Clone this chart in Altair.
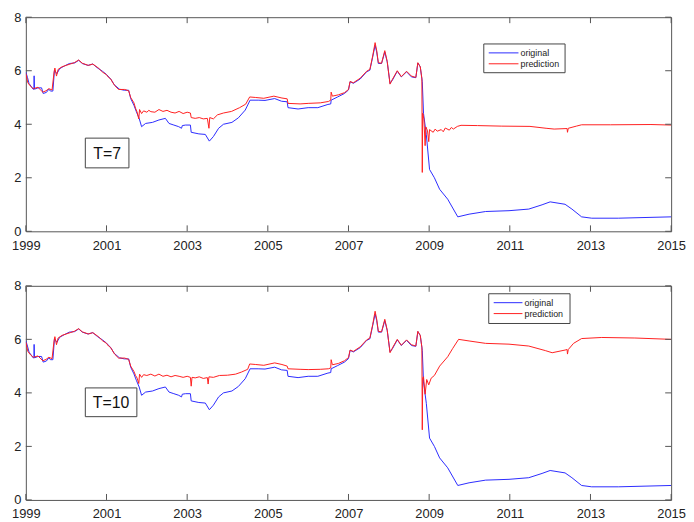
import altair as alt
import pandas as pd

# ---------------- data ----------------
x_ticks = [1999, 2001, 2003, 2005, 2007, 2009, 2011, 2013, 2015]
y_ticks = [0, 2, 4, 6, 8]
series_names = ["original", "prediction"]
panel_labels = ["T=7", "T=10"]

orig_years = [1999.00, 1999.04, 1999.08, 1999.14, 1999.18, 1999.20, 1999.205, 1999.215, 1999.30, 1999.39,
              1999.43, 1999.51, 1999.57, 1999.61, 1999.67, 1999.71, 1999.77, 1999.84, 1999.96, 2000.08,
              2000.21, 2000.31, 2000.40, 2000.54, 2000.66, 2000.78, 2000.90, 2001.00, 2001.11, 2001.19,
              2001.32, 2001.44, 2001.55, 2001.60, 2001.68, 2001.74, 2001.81, 2001.87, 2001.97, 2002.14,
              2002.30, 2002.46, 2002.55, 2002.67, 2002.79, 2002.86, 2002.88, 2002.96, 2003.08, 2003.10,
              2003.29, 2003.45, 2003.55, 2003.65, 2003.78, 2003.90, 2004.11, 2004.27, 2004.44, 2004.56,
              2004.76, 2004.93, 2005.17, 2005.34, 2005.48, 2005.50, 2005.75, 2006.00, 2006.24, 2006.49,
              2006.56, 2006.57, 2006.73, 2006.90, 2007.00, 2007.04, 2007.12, 2007.29, 2007.45, 2007.53,
              2007.60, 2007.66, 2007.70, 2007.74, 2007.82, 2007.90, 2007.96, 2008.03, 2008.09, 2008.21,
              2008.31, 2008.44, 2008.56, 2008.67, 2008.72, 2008.78, 2008.83, 2008.86, 2008.93, 2009.01,
              2009.13, 2009.26, 2009.46, 2009.71, 2009.99, 2010.40, 2010.98, 2011.47, 2011.80, 2012.00,
              2012.37, 2012.54, 2012.78, 2013.03, 2013.69, 2015.00]
orig_vals = [5.95, 5.75, 5.52, 5.40, 5.31, 5.31, 5.81, 5.31, 5.36, 5.36,
             5.15, 5.19, 5.31, 5.24, 5.24, 6.02, 5.89, 6.08, 6.18, 6.27,
             6.29, 6.39, 6.27, 6.20, 6.25, 6.10, 5.98, 5.86, 5.68, 5.48,
             5.31, 5.27, 5.27, 4.96, 4.71, 4.47, 4.22, 3.91, 4.03, 4.07,
             4.16, 4.22, 4.03, 3.97, 3.91, 3.85, 3.95, 3.97, 3.97, 3.70,
             3.64, 3.62, 3.37, 3.54, 3.85, 4.00, 4.07, 4.24, 4.53, 4.90,
             4.90, 4.89, 4.96, 4.86, 4.84, 4.62, 4.57, 4.62, 4.62, 4.74,
             4.76, 4.90, 5.02, 5.15, 5.28, 5.59, 5.53, 5.69, 5.96, 6.02,
             6.51, 6.95, 6.70, 6.27, 6.27, 6.70, 6.33, 5.53, 5.65, 5.98,
             5.77, 5.96, 5.77, 5.74, 6.29, 6.14, 5.59, 4.41, 3.61, 2.31,
             2.00, 1.57, 1.20, 0.54, 0.64, 0.74, 0.77, 0.83, 0.99, 1.10,
             1.01, 0.83, 0.54, 0.49, 0.49, 0.54]

pred7_years = [1999.00, 1999.05, 1999.10, 1999.18, 1999.30, 1999.42, 1999.50, 1999.57, 1999.65, 1999.70,
               1999.72, 1999.76, 1999.80, 1999.90, 2000.00, 2000.10, 2000.20, 2000.31, 2000.40, 2000.55,
               2000.66, 2000.80, 2000.90, 2001.00, 2001.05, 2001.10, 2001.20, 2001.30, 2001.45, 2001.55,
               2001.60, 2001.68, 2001.72, 2001.76, 2001.80, 2001.82, 2001.87, 2001.92, 2002.00, 2002.05,
               2002.10, 2002.20, 2002.30, 2002.40, 2002.50, 2002.60, 2002.70, 2002.80, 2002.90, 2003.00,
               2003.08, 2003.10, 2003.20, 2003.30, 2003.40, 2003.50, 2003.54, 2003.56, 2003.65, 2003.75,
               2003.90, 2004.10, 2004.30, 2004.45, 2004.55, 2004.70, 2004.90, 2005.15, 2005.35, 2005.48,
               2005.50, 2005.80, 2006.00, 2006.30, 2006.50, 2006.56, 2006.57, 2006.60, 2006.75, 2006.90,
               2007.00, 2007.04, 2007.12, 2007.29, 2007.45, 2007.53, 2007.60, 2007.66, 2007.70, 2007.74,
               2007.82, 2007.90, 2007.96, 2008.03, 2008.09, 2008.21, 2008.31, 2008.44, 2008.56, 2008.67,
               2008.72, 2008.78, 2008.82, 2008.83, 2008.84, 2008.87, 2008.90, 2008.92, 2008.96, 2008.99,
               2009.01, 2009.10, 2009.15, 2009.20, 2009.30, 2009.35, 2009.40, 2009.50, 2009.55, 2009.60,
               2009.70, 2009.79, 2010.20, 2010.80, 2011.50, 2011.90, 2012.10, 2012.42, 2012.43, 2012.45,
               2012.65, 2012.78, 2013.50, 2014.50, 2015.00]
pred7_vals = [5.90, 5.55, 5.45, 5.33, 5.38, 5.20, 5.25, 5.33, 5.28, 5.95,
              6.10, 5.80, 6.05, 6.15, 6.20, 6.25, 6.30, 6.40, 6.28, 6.20,
              6.25, 6.10, 5.95, 5.85, 5.75, 5.70, 5.45, 5.30, 5.30, 5.25,
              5.00, 4.80, 4.60, 4.45, 4.20, 4.55, 4.40, 4.50, 4.45, 4.52,
              4.47, 4.45, 4.55, 4.48, 4.52, 4.45, 4.42, 4.48, 4.40, 4.45,
              4.42, 4.25, 4.22, 4.25, 4.20, 4.22, 3.85, 4.25, 4.20, 4.35,
              4.42, 4.48, 4.62, 4.75, 5.02, 5.00, 4.97, 5.05, 4.98, 4.95,
              4.78, 4.76, 4.78, 4.80, 4.85, 4.90, 5.20, 5.05, 5.10, 5.18,
              5.30, 5.60, 5.55, 5.72, 5.98, 6.05, 6.55, 7.05, 6.75, 6.30,
              6.28, 6.75, 6.35, 5.50, 5.68, 6.00, 5.78, 5.98, 5.80, 5.75,
              6.30, 6.15, 5.70, 2.20, 4.41, 4.20, 3.20, 3.90, 3.75, 3.35,
              3.80, 3.70, 3.82, 3.74, 3.80, 3.72, 3.86, 3.78, 3.88, 3.82,
              3.92, 3.96, 3.95, 3.93, 3.92, 3.85, 3.82, 3.84, 3.70, 3.85,
              3.93, 3.98, 3.98, 3.99, 3.97]

pred10_years = [1999.00, 1999.05, 1999.10, 1999.18, 1999.30, 1999.42, 1999.50, 1999.57, 1999.65, 1999.70,
                1999.72, 1999.76, 1999.80, 1999.90, 2000.00, 2000.10, 2000.20, 2000.31, 2000.40, 2000.55,
                2000.66, 2000.80, 2000.90, 2001.00, 2001.05, 2001.10, 2001.20, 2001.30, 2001.45, 2001.55,
                2001.60, 2001.68, 2001.72, 2001.76, 2001.80, 2001.82, 2001.87, 2001.92, 2002.00, 2002.10,
                2002.20, 2002.30, 2002.40, 2002.50, 2002.60, 2002.70, 2002.80, 2002.90, 2003.00, 2003.08,
                2003.10, 2003.12, 2003.20, 2003.30, 2003.40, 2003.50, 2003.52, 2003.54, 2003.65, 2003.80,
                2004.00, 2004.20, 2004.35, 2004.50, 2004.55, 2004.70, 2004.90, 2005.17, 2005.35, 2005.48,
                2005.50, 2005.80, 2006.00, 2006.30, 2006.50, 2006.56, 2006.57, 2006.60, 2006.75, 2006.90,
                2007.00, 2007.04, 2007.12, 2007.29, 2007.45, 2007.53, 2007.60, 2007.66, 2007.70, 2007.74,
                2007.82, 2007.90, 2007.96, 2008.03, 2008.09, 2008.21, 2008.31, 2008.44, 2008.56, 2008.67,
                2008.72, 2008.78, 2008.82, 2008.83, 2008.84, 2008.86, 2008.90, 2008.94, 2008.99, 2009.05,
                2009.13, 2009.26, 2009.46, 2009.58, 2009.73, 2009.99, 2010.40, 2010.98, 2011.47, 2011.88,
                2012.05, 2012.37, 2012.42, 2012.43, 2012.45, 2012.58, 2012.78, 2013.28, 2014.10, 2015.00]
pred10_vals = [5.90, 5.55, 5.45, 5.33, 5.38, 5.20, 5.25, 5.33, 5.28, 5.95,
               6.10, 5.80, 6.05, 6.15, 6.20, 6.25, 6.30, 6.40, 6.28, 6.20,
               6.25, 6.10, 5.95, 5.85, 5.75, 5.70, 5.45, 5.30, 5.30, 5.25,
               5.00, 4.80, 4.65, 4.55, 4.35, 4.70, 4.58, 4.68, 4.65, 4.70,
               4.63, 4.70, 4.62, 4.66, 4.60, 4.65, 4.62, 4.58, 4.62, 4.58,
               4.25, 4.58, 4.56, 4.60, 4.54, 4.57, 4.33, 4.60, 4.58, 4.65,
               4.66, 4.70, 4.78, 4.88, 5.08, 5.06, 5.03, 5.12, 5.06, 5.00,
               4.90, 4.88, 4.87, 4.88, 4.90, 4.93, 5.24, 5.05, 5.10, 5.20,
               5.32, 5.60, 5.55, 5.72, 5.98, 6.05, 6.55, 7.05, 6.75, 6.30,
               6.28, 6.75, 6.35, 5.50, 5.68, 6.00, 5.78, 5.98, 5.80, 5.75,
               6.30, 6.15, 5.70, 2.62, 4.55, 4.60, 3.95, 4.50, 4.30, 4.55,
               4.65, 5.00, 5.35, 5.65, 6.00, 5.94, 5.85, 5.82, 5.75, 5.58,
               5.50, 5.60, 5.62, 5.45, 5.62, 5.85, 6.03, 6.07, 6.05, 6.00]

# ---------------- styling ----------------
W, H = 651, 216
BLUE = "#2b2bff"
RED = "#ff1f1f"
FRAME = "#555555"
FONT = "Liberation Sans"
TICK = 6

x_scale = alt.Scale(domain=[1999, 2015], nice=False, zero=False)
y_scale = alt.Scale(domain=[0, 8], nice=False)
x_axis = alt.Axis(values=x_ticks, format="d", title=None, labelPadding=8, labelFlush=False)
y_axis = alt.Axis(values=y_ticks, format="d", title=None, labelPadding=5)

xt_df = pd.DataFrame({"year": x_ticks})
yt_df = pd.DataFrame({"v": y_ticks})
one = alt.Data(values=[{}])


def panel(pred_years, pred_vals, label, leg, tbox):
    orig_df = pd.DataFrame({"year": orig_years, "value": orig_vals})
    pred_df = pd.DataFrame({"year": pred_years, "value": pred_vals})

    blue = alt.Chart(orig_df).mark_line(color=BLUE, strokeWidth=1, clip=True).encode(
        x=alt.X("year:Q", scale=x_scale, axis=x_axis),
        y=alt.Y("value:Q", scale=y_scale, axis=y_axis),
    )
    red = alt.Chart(pred_df).mark_line(color=RED, strokeWidth=1, clip=True).encode(
        x=alt.X("year:Q", scale=x_scale),
        y=alt.Y("value:Q", scale=y_scale),
    )

    # inward MATLAB-style ticks
    xt_bot = alt.Chart(xt_df).mark_rule(color=FRAME).encode(
        x=alt.X("year:Q", scale=x_scale), y=alt.value(H), y2=alt.value(H - TICK))
    xt_top = alt.Chart(xt_df).mark_rule(color=FRAME).encode(
        x=alt.X("year:Q", scale=x_scale), y=alt.value(0), y2=alt.value(TICK))
    yt_left = alt.Chart(yt_df).mark_rule(color=FRAME).encode(
        y=alt.Y("v:Q", scale=y_scale), x=alt.value(0), x2=alt.value(TICK))
    yt_right = alt.Chart(yt_df).mark_rule(color=FRAME).encode(
        y=alt.Y("v:Q", scale=y_scale), x=alt.value(W), x2=alt.value(W - TICK))

    # legend box
    lx0, lx1, ly0, ly1, sx0, sx1, r1, r2, tx = leg
    lbox = alt.Chart(one).mark_rect(fill="white", stroke="#444444", strokeWidth=1).encode(
        x=alt.value(lx0), x2=alt.value(lx1), y=alt.value(ly0), y2=alt.value(ly1))
    l1 = alt.Chart(one).mark_rule(color=BLUE, strokeWidth=1).encode(
        x=alt.value(sx0), x2=alt.value(sx1), y=alt.value(r1))
    l2 = alt.Chart(one).mark_rule(color=RED, strokeWidth=1).encode(
        x=alt.value(sx0), x2=alt.value(sx1), y=alt.value(r2))
    t1 = alt.Chart(one).mark_text(text=series_names[0], align="left", baseline="middle",
                                  font=FONT, fontSize=9, color="#222222").encode(
        x=alt.value(tx), y=alt.value(r1))
    t2 = alt.Chart(one).mark_text(text=series_names[1], align="left", baseline="middle",
                                  font=FONT, fontSize=9, color="#222222").encode(
        x=alt.value(tx), y=alt.value(r2))

    # T=.. annotation box
    bx0, bx1, by0, by1 = tbox
    tb = alt.Chart(one).mark_rect(fill="white", stroke="#444444", strokeWidth=1).encode(
        x=alt.value(bx0), x2=alt.value(bx1), y=alt.value(by0), y2=alt.value(by1))
    tt = alt.Chart(one).mark_text(text=label, align="center", baseline="middle",
                                  font=FONT, fontSize=16, color="#111111").encode(
        x=alt.value((bx0 + bx1) / 2), y=alt.value((by0 + by1) / 2 + 1))

    return alt.layer(blue, red, xt_bot, xt_top, yt_left, yt_right,
                     lbox, l1, l2, t1, t2, tb, tt).properties(width=W, height=H)


top = panel(pred7_years, pred7_vals, panel_labels[0],
            (462, 544, 27, 56, 467, 497, 36, 47, 499), (60, 104, 122, 152))
bottom = panel(pred10_years, pred10_vals, panel_labels[1],
               (467, 549, 8, 38, 472, 501, 17, 28, 503), (60, 112, 103, 132))

chart = alt.vconcat(top, bottom, spacing=26).properties(
    padding={"left": 3, "top": 0, "right": 0, "bottom": 0},
    background="white",
).configure_view(
    stroke=FRAME, strokeWidth=1
).configure_axis(
    labelFont=FONT, labelFontSize=13, labelColor="#222222",
    ticks=False, domain=False, grid=False,
)

chart.save("out.html", embed_options={"renderer": "svg", "actions": False})
